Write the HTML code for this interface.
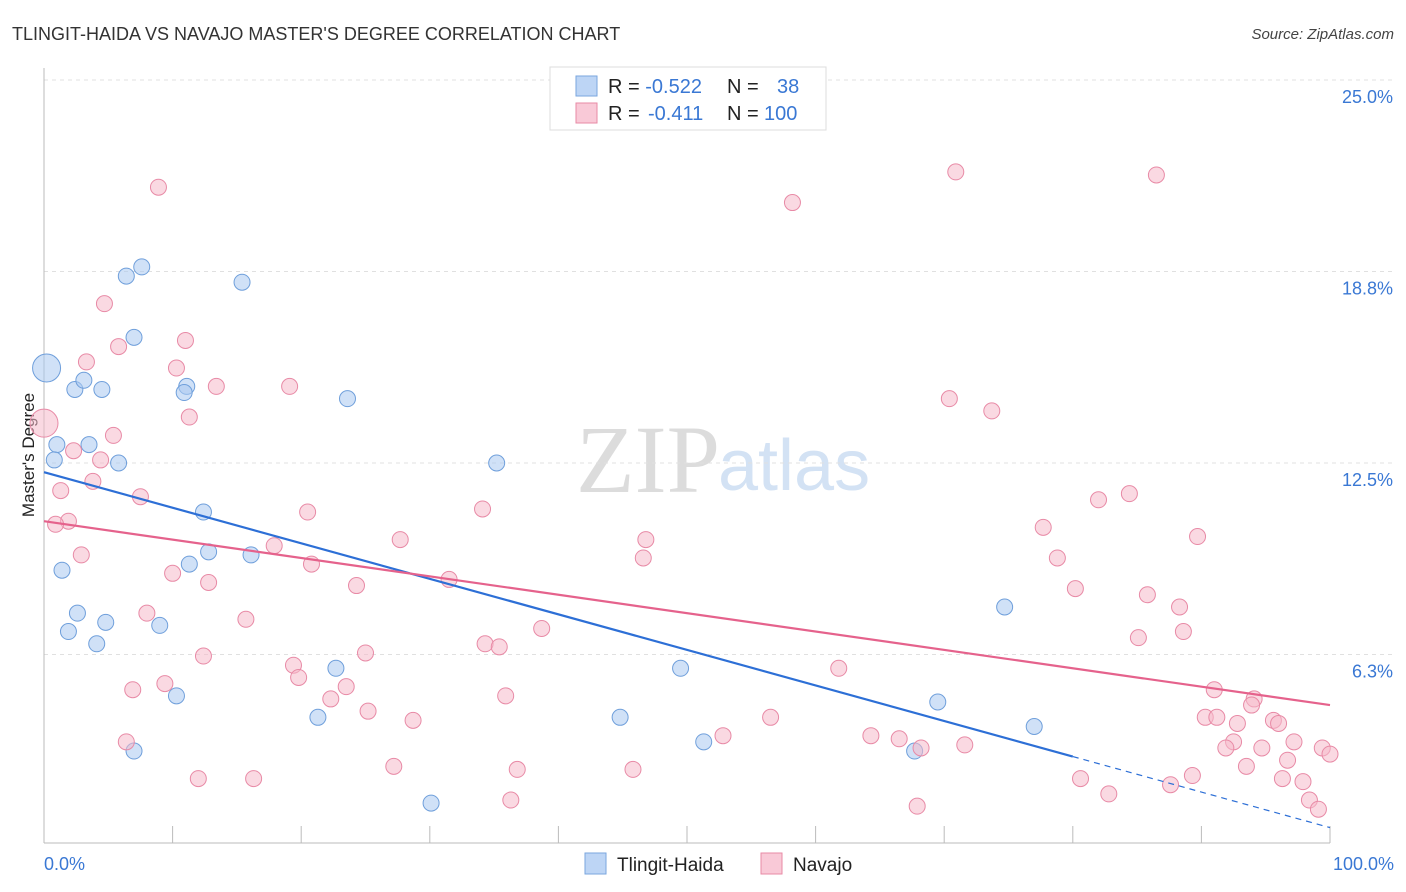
<!DOCTYPE html>
<html><head><meta charset="utf-8">
<style>
body{margin:0;background:#fff;font-family:"Liberation Sans",sans-serif;}
#wrap{position:relative;width:1406px;height:892px;overflow:hidden;}
</style></head>
<body>
<div id="wrap">
<svg id="svg" width="1406" height="892" xmlns="http://www.w3.org/2000/svg">
<text x="12" y="40" font-size="18" fill="#333">TLINGIT-HAIDA VS NAVAJO MASTER'S DEGREE CORRELATION CHART</text>
<text x="1394" y="39" font-size="15" fill="#444" font-style="italic" text-anchor="end">Source: ZipAtlas.com</text>
<text x="720" y="492" font-size="96" fill="#dcdcdc" text-anchor="end" font-family="Liberation Serif, serif">ZIP</text>
<text x="718" y="490" font-size="72" fill="#d3e2f4">atlas</text>
<text x="34" y="455" font-size="17" fill="#222" text-anchor="middle" transform="rotate(-90 34 455)">Master's Degree</text>
<g id="grid"></g>
<g id="marks"></g>
<g>
<rect x="550" y="67" width="276" height="63" fill="#fff" stroke="#ddd"/>
<rect x="576" y="76" width="21" height="20" fill="#bdd5f5" stroke="#7aa6de"/>
<rect x="576" y="103" width="21" height="20" fill="#f9c9d7" stroke="#e88aa6"/>
<text x="608" y="93" font-size="20" fill="#222">R = <tspan fill="#3a78d4">-0.522</tspan><tspan x="727">N = </tspan><tspan x="777" fill="#3a78d4">38</tspan></text>
<text x="608" y="120" font-size="20" fill="#222">R = <tspan x="648" fill="#3a78d4">-0.411</tspan><tspan x="727">N = </tspan><tspan x="764" fill="#3a78d4">100</tspan></text>
</g>
<g>
<rect x="585" y="853" width="21" height="21" fill="#bdd5f5" stroke="#7aa6de"/>
<text x="617" y="871" font-size="19" fill="#222">Tlingit-Haida</text>
<rect x="761" y="853" width="21" height="21" fill="#f9c9d7" stroke="#e88aa6"/>
<text x="793" y="871" font-size="19" fill="#222">Navajo</text>
</g>
</svg>
</div>
<script>
const yTicks=[25,18.75,12.5,6.25];
const yTickLabels=["25.0%","18.8%","12.5%","6.3%"];
const xTickLabels=["0.0%","100.0%"];
const blueX=[0.2,1.0,0.8,2.4,3.1,4.5,3.5,5.8,6.4,7.6,7.0,11.1,10.9,15.4,23.6,1.4,2.6,1.9,4.1,4.8,9.0,12.4,11.3,12.8,16.1,10.3,7.0,22.7,21.3,30.1,35.2,44.8,49.5,51.3,69.5,67.7,74.7,77.0];
const blueY=[15.6,13.1,12.6,14.9,15.2,14.9,13.1,12.5,18.6,18.9,16.6,15.0,14.8,18.4,14.6,9.0,7.6,7.0,6.6,7.3,7.2,10.9,9.2,9.6,9.5,4.9,3.1,5.8,4.2,1.4,12.5,4.2,5.8,3.4,4.7,3.1,7.8,3.9];
const pinkX=[0,8.9,4.7,5.8,3.3,11.0,10.3,13.4,19.1,11.3,5.4,2.3,4.4,3.8,1.3,7.5,1.9,0.9,2.9,20.5,17.9,10.0,20.8,12.8,24.3,8.0,15.7,12.4,25.0,19.4,19.8,23.5,22.3,9.4,6.9,35.9,25.2,28.7,27.2,6.4,12.0,16.3,36.8,36.3,45.8,52.8,56.5,34.1,27.7,46.8,46.6,31.5,38.7,34.3,35.4,58.2,70.9,86.5,70.4,73.7,61.8,64.3,66.5,68.2,71.6,67.9,77.7,82.0,84.4,78.8,89.7,80.2,85.8,88.3,85.1,88.6,91.0,94.1,93.9,90.3,91.2,92.8,95.6,96.0,92.5,91.9,94.7,97.2,99.4,100,96.7,93.5,89.3,87.6,80.6,82.8,96.3,97.9,98.4,99.1];
const pinkY=[13.8,21.5,17.7,16.3,15.8,16.5,15.6,15.0,15.0,14.0,13.4,12.9,12.6,11.9,11.6,11.4,10.6,10.5,9.5,10.9,9.8,8.9,9.2,8.6,8.5,7.6,7.4,6.2,6.3,5.9,5.5,5.2,4.8,5.3,5.1,4.9,4.4,4.1,2.6,3.4,2.2,2.2,2.5,1.5,2.5,3.6,4.2,11.0,10.0,10.0,9.4,8.7,7.1,6.6,6.5,21.0,22.0,21.9,14.6,14.2,5.8,3.6,3.5,3.2,3.3,1.3,10.4,11.3,11.5,9.4,10.1,8.4,8.2,7.8,6.8,7.0,5.1,4.8,4.6,4.2,4.2,4.0,4.1,4.0,3.4,3.2,3.2,3.4,3.2,3.0,2.8,2.6,2.3,2.0,2.2,1.7,2.2,2.1,1.5,1.2];
const blueTrend=[12.2,0.6];
const blueSolidEnd=80;
const pinkTrend=[10.6,4.6];
const NS="http://www.w3.org/2000/svg";
const X=v=>44+v/100*1286;
const Y=v=>846-v/25*766;
function mk(tag,attrs,parent){const e=document.createElementNS(NS,tag);for(const k in attrs)e.setAttribute(k,attrs[k]);parent.appendChild(e);return e;}
const grid=document.getElementById('grid'),marks=document.getElementById('marks'),svg=document.getElementById('svg');
yTicks.forEach((t,i)=>{
  const l=mk('line',{x1:44,x2:1394,y1:Y(t),y2:Y(t),stroke:'#e0e0e0','stroke-dasharray':'4,4'},grid);
  
  
  const tx=mk('text',{x:1393,y:Y(t)+23,'font-size':18,fill:'#3a78d4','text-anchor':'end'},grid);
  tx.textContent=yTickLabels[i];
  
  
});
const ax=mk('line',{x1:44,x2:44,y1:68,y2:843,stroke:'#bbb'},grid);


const bx=mk('line',{x1:44,x2:1330,y1:843,y2:843,stroke:'#bbb'},grid);


for(let i=0;i<=10;i++){
  const tk=mk('line',{x1:X(i*10),x2:X(i*10),y1:826,y2:843,stroke:'#bbb'},grid);
  
  
}
[[0,'start',44],[1,'end',1394]].forEach(([i,a,x])=>{
  const t=mk('text',{x:x,y:870,'font-size':18,fill:'#3a78d4','text-anchor':a},grid);
  t.textContent=xTickLabels[i];
  
  
});
function dots(xs,ys,fill,stroke,name){
  xs.forEach((x,i)=>{
    const big=(x<0.5);
    const c=mk('circle',{cx:X(x),cy:Y(ys[i]),r:big?14:8,fill:fill,'fill-opacity':0.55,stroke:stroke,'stroke-width':1},marks);
    
    
  });
}
dots(blueX,blueY,'#a9c8f0','#6f9fdb','tlingit-point');
dots(pinkX,pinkY,'#f6b9cb','#e88aa6','navajo-point');
const bAt=x=>blueTrend[0]+(blueTrend[1]-blueTrend[0])*x/100;
const pAt=x=>pinkTrend[0]+(pinkTrend[1]-pinkTrend[0])*x/100;
const l1=mk('line',{x1:X(0),y1:Y(bAt(0)),x2:X(blueSolidEnd),y2:Y(bAt(blueSolidEnd)),stroke:'#2d6fd6','stroke-width':2.2},marks);


const l2=mk('line',{x1:X(blueSolidEnd),y1:Y(bAt(blueSolidEnd)),x2:X(100),y2:Y(bAt(100)),stroke:'#2d6fd6','stroke-width':1.2,'stroke-dasharray':'6,5'},marks);


const l3=mk('line',{x1:X(0),y1:Y(pAt(0)),x2:X(100),y2:Y(pAt(100)),stroke:'#e5628c','stroke-width':2.2},marks);


</script>
</body></html>
